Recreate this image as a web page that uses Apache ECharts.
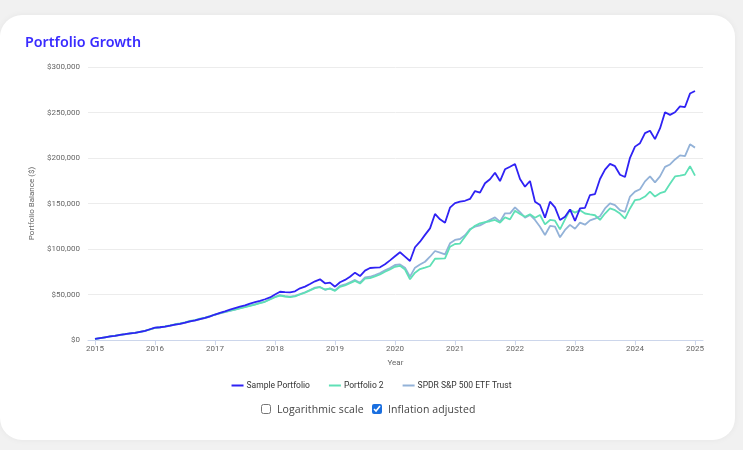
<!DOCTYPE html>
<html>
<head>
<meta charset="utf-8">
<script src="https://cdn.jsdelivr.net/npm/echarts@6/dist/echarts.min.js"></script>
<style>
html,body{margin:0;padding:0;width:743px;height:450px;overflow:hidden;background:#f1f1f1;}
#card{position:absolute;left:0;top:15px;width:735px;height:425px;background:#fff;border-radius:22px;box-shadow:0 0 6px rgba(0,0,0,0.05);}
#chart{position:absolute;left:0;top:0;width:743px;height:450px;}
.opt{position:absolute;top:402px;height:14px;display:flex;align-items:center;font-family:"Open Sans",sans-serif;font-size:10.5px;color:#444;letter-spacing:0.1px;white-space:nowrap;}
.opt input{margin:0 6px 0 0;width:10px;height:10px;accent-color:#1a6fe0;}
</style>
</head>
<body>
<div id="card"></div>
<div id="chart"></div>
<div class="opt" style="left:261px"><input type="checkbox">Logarithmic scale</div>
<div class="opt" style="left:372px"><input type="checkbox" checked>Inflation adjusted</div>
<script>
// Monthly values, Jan 2015 .. Jan 2025 (US$)
const startYear = 2015;
const yearTicks = [2015, 2016, 2017, 2018, 2019, 2020, 2021, 2022, 2023, 2024, 2025];
const yTicks = [0, 50000, 100000, 150000, 200000, 250000, 300000];
const seriesNames = ["Sample Portfolio", "Portfolio 2", "SPDR S&P 500 ETF Trust"];

const samplePortfolio = [
  1200, 2100, 3000, 3900, 4600, 5600, 6400, 7300, 7900, 9000, 10000, 11800,
  13500, 14000, 14800, 15800, 17000, 17800, 19000, 20500, 21500, 23000, 24200, 26000,
  28000, 29800, 31500, 33300, 35000, 36600, 38000, 40000, 41500, 43000, 44800, 46800,
  50000, 53000, 52600, 52400, 53500, 56800, 58700, 61500, 64500, 66700, 62300, 63000,
  58600, 63500, 66000, 69500, 74000, 70300, 76200, 79100, 79500, 79900, 83200, 87500,
  92000, 96400, 91600, 86800, 101900, 108000, 115500, 122700, 138500, 132600, 128900, 145400,
  150500, 152000, 153000, 155000, 163700, 161900, 172200, 176600, 183800, 174700, 187600, 190400,
  193400, 176900, 168500, 174700, 152000, 148400, 134400, 152000, 145800, 131900, 135500, 143500,
  130800, 144600, 145300, 159300, 160400, 176900, 187300, 193500, 191000, 181600, 179100, 200200,
  212500, 216300, 227400, 230000, 220700, 232500, 250300, 247400, 250300, 256700, 256000, 270800,
  273700
];
const portfolio2 = [
  1100, 2000, 3000, 3900, 4700, 5600, 6400, 7200, 7900, 9000, 10000, 11700,
  13400, 14000, 14900, 16000, 17300, 18200, 19300, 20900, 21900, 23400, 24600, 26300,
  28000, 29500, 30800, 32200, 33500, 34800, 36000, 37500, 39000, 40500, 42000, 44500,
  47000, 48800, 47800, 47200, 48000, 50000, 52000, 54500, 57000, 58000, 55500, 56500,
  54000, 58500, 60000, 62500, 65000, 62000, 67500, 68000, 70000, 72000, 75000, 77500,
  80500, 81500, 77500, 66700, 74000, 78000, 79500, 81300, 89300, 89500, 89800, 102500,
  105500, 106000, 113500, 121000, 125500, 128200, 129500, 130500, 131900, 128900, 134800, 132600,
  142100, 138500, 135500, 138100, 134400, 137400, 127100, 131900, 131100, 121600, 132600, 143000,
  140000, 142700, 139000, 138000, 137100, 132000, 139000, 144600, 142700, 139000, 133400, 144600,
  153800, 154600, 157600, 163100, 157600, 161300, 163100, 171600, 179800, 180600, 181700, 191000,
  180600
];
const spdr = [
  1000, 2000, 2900, 3800, 4600, 5500, 6300, 7100, 7800, 8900, 9900, 11600,
  13200, 13800, 14600, 15600, 16900, 17700, 18800, 20400, 21300, 22900, 24100, 25800,
  27800, 29200, 30500, 32000, 33500, 35000, 36300, 37800, 39200, 40800, 42300, 44800,
  47500, 49400, 48200, 47600, 48500, 50500, 52500, 55000, 57500, 58300, 55200, 56800,
  54500, 59500, 61000, 63500, 66000, 63000, 68900, 69500, 71400, 73500, 76500, 79000,
  82400, 83000, 79500, 69600, 79500, 83000, 86000, 91500, 97800, 96000, 94200, 106300,
  110000, 111000, 115000, 122000, 124500, 126000, 129000, 132000, 134800, 130000, 139200, 139200,
  145800, 140500, 134400, 137400, 131900, 124500, 115400, 125300, 124500, 112900, 120900, 126500,
  122300, 129000, 126700, 131500, 133400, 136000, 144600, 150100, 148200, 142700, 140900, 157600,
  163100, 165700, 174300, 179800, 173200, 179800, 190200, 192900, 198400, 202900, 202100, 215000,
  211400
];

const colors = ["#2f22f4", "#5fe0b6", "#93b2d8"];
const toPairs = arr => arr.map((v, i) => [startYear + i / 12, v]);
const fmtMoney = v => "$" + v.toLocaleString("en-US");

const chart = echarts.init(document.getElementById("chart"), null, {renderer: "canvas"});
const axisFont = {fontFamily: "Roboto, Arial, sans-serif", fontSize: 8, color: "#666"};
chart.setOption({
  animation: false,
  title: {
    text: "Portfolio Growth", left: 20, top: 31,
    textStyle: {fontFamily: "'Noto Sans', sans-serif", fontSize: 14.3, fontWeight: 600, color: "#3a2cff"}
  },
  legend: {
    data: seriesNames, bottom: 55, left: "center",
    icon: "rect", itemWidth: 12, itemHeight: 2, itemGap: 19,
    textStyle: {fontFamily: "Roboto, Arial, sans-serif", fontSize: 8.5, color: "#333", padding: [0, 0, 0, -2]}
  },
  grid: {left: 88, right: 40, top: 67, bottom: 110, containLabel: false},
  xAxis: {
    type: "value", min: 2015 - 7 / 60, max: 2025 + 8 / 60,
    name: "Year", nameLocation: "middle", nameGap: 19,
    nameTextStyle: axisFont,
    axisLine: {lineStyle: {color: "#ccd6eb"}},
    axisTick: {show: true, length: 5, lineStyle: {color: "#ccd6eb"}, customValues: yearTicks},
    axisLabel: Object.assign({customValues: yearTicks, margin: 5, formatter: v => String(Math.round(v))}, axisFont),
    splitLine: {show: false}
  },
  yAxis: {
    type: "value", min: 0, max: 300000, interval: 50000,
    name: "Portfolio Balance ($)", nameLocation: "middle", nameGap: 43,
    nameTextStyle: axisFont,
    axisLine: {show: false}, axisTick: {show: false},
    axisLabel: Object.assign({margin: 8, formatter: fmtMoney, customValues: yTicks}, axisFont),
    splitLine: {lineStyle: {color: "#ececec", width: 1}}
  },
  series: [
    {name: seriesNames[2], type: "line", data: toPairs(spdr), showSymbol: false, lineStyle: {width: 1.8, color: colors[2]}, itemStyle: {color: colors[2]}, z: 2},
    {name: seriesNames[1], type: "line", data: toPairs(portfolio2), showSymbol: false, lineStyle: {width: 1.8, color: colors[1]}, itemStyle: {color: colors[1]}, z: 3},
    {name: seriesNames[0], type: "line", data: toPairs(samplePortfolio), showSymbol: false, lineStyle: {width: 1.8, color: colors[0]}, itemStyle: {color: colors[0]}, z: 4}
  ]
});
</script>
</body>
</html>
